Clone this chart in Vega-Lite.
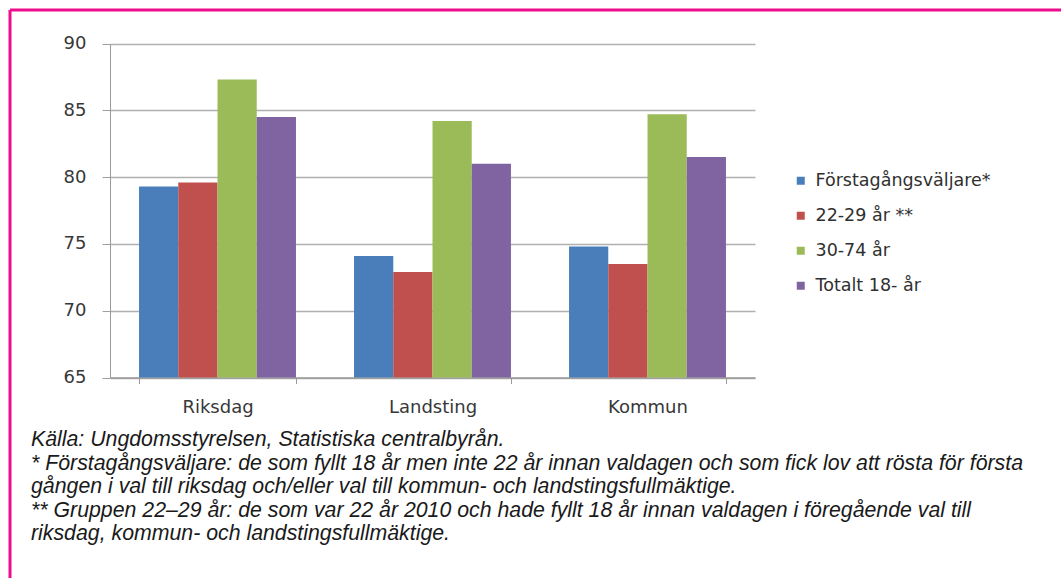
{
  "$schema": "https://vega.github.io/schema/vega-lite/v6.json",
  "width": 1051,
  "height": 568,
  "autosize": {"type": "none"},
  "padding": {"left": 10, "top": 10, "right": 0, "bottom": 0},
  "background": "white",
  "data": {
    "values": [
      {"val": "Riksdag", "grupp": "Förstagångsväljare*", "andel": 79.3},
      {"val": "Riksdag", "grupp": "22-29 år **", "andel": 79.6},
      {"val": "Riksdag", "grupp": "30-74 år", "andel": 87.3},
      {"val": "Riksdag", "grupp": "Totalt 18- år", "andel": 84.5},
      {"val": "Landsting", "grupp": "Förstagångsväljare*", "andel": 74.1},
      {"val": "Landsting", "grupp": "22-29 år **", "andel": 72.9},
      {"val": "Landsting", "grupp": "30-74 år", "andel": 84.2},
      {"val": "Landsting", "grupp": "Totalt 18- år", "andel": 81.0},
      {"val": "Kommun", "grupp": "Förstagångsväljare*", "andel": 74.8},
      {"val": "Kommun", "grupp": "22-29 år **", "andel": 73.5},
      {"val": "Kommun", "grupp": "30-74 år", "andel": 84.7},
      {"val": "Kommun", "grupp": "Totalt 18- år", "andel": 81.5}
    ]
  },
  "title": {
    "text": [
      "Källa: Ungdomsstyrelsen, Statistiska centralbyrån.",
      "* Förstagångsväljare: de som fyllt 18 år men inte 22 år innan valdagen och som fick lov att rösta för första",
      "gången i val till riksdag och/eller val till kommun- och landstingsfullmäktige.",
      "** Gruppen 22–29 år: de som var 22 år 2010 och hade fyllt 18 år innan valdagen i föregående val till",
      "riksdag, kommun- och landstingsfullmäktige."
    ],
    "orient": "bottom",
    "anchor": "start",
    "frame": "group",
    "offset": -149,
    "dx": 21,
    "font": "Liberation Sans",
    "fontStyle": "italic",
    "fontWeight": "normal",
    "fontSize": 21.3,
    "lineHeight": 23.6,
    "color": "#1a1a1a"
  },
  "mark": {"type": "bar"},
  "encoding": {
    "x": {
      "field": "val",
      "type": "nominal",
      "sort": ["Riksdag", "Landsting", "Kommun"],
      "scale": {"range": [100, 745], "paddingInner": 0.27, "paddingOuter": 0.135},
      "axis": {
        "title": null,
        "offset": -200.5,
        "labelAngle": 0,
        "labelFont": "DejaVu Sans",
        "labelFontSize": 18,
        "labelColor": "#383838",
        "labelPadding": 15,
        "tickBand": "extent",
        "tickSize": 6,
        "tickColor": "#9a9a9a",
        "domainColor": "#9a9a9a",
        "domainWidth": 1.5,
        "grid": false
      }
    },
    "xOffset": {
      "field": "grupp",
      "type": "nominal",
      "sort": ["Förstagångsväljare*", "22-29 år **", "30-74 år", "Totalt 18- år"],
      "scale": {"paddingInner": 0, "paddingOuter": 0}
    },
    "y": {
      "field": "andel",
      "type": "quantitative",
      "scale": {"domain": [65, 90], "range": [367.5, 33.5], "nice": false, "zero": false},
      "axis": {
        "title": null,
        "offset": -100,
        "values": [65, 70, 75, 80, 85, 90],
        "labelFont": "DejaVu Sans",
        "labelFontSize": 18,
        "labelColor": "#383838",
        "labelPadding": 16,
        "tickSize": 8,
        "tickColor": "#a0a0a0",
        "domainColor": "#9a9a9a",
        "grid": true,
        "gridColor": "#b0b0b0",
        "gridWidth": 1.5
      }
    },
    "y2": {"datum": 65},
    "color": {
      "field": "grupp",
      "type": "nominal",
      "sort": ["Förstagångsväljare*", "22-29 år **", "30-74 år", "Totalt 18- år"],
      "scale": {
        "domain": ["Förstagångsväljare*", "22-29 år **", "30-74 år", "Totalt 18- år"],
        "range": ["#4a7ebb", "#c0504d", "#9bbb59", "#8064a2"]
      },
      "legend": {
        "title": null,
        "orient": "none",
        "legendX": 782,
        "legendY": 162,
        "symbolType": "square",
        "symbolSize": 64,
        "symbolStrokeWidth": 0,
        "symbolOpacity": 1,
        "labelFont": "DejaVu Sans",
        "labelFontSize": 17.5,
        "labelColor": "#303030",
        "labelOffset": 6,
        "rowPadding": 16,
        "padding": 0,
        "labelLimit": 300
      }
    }
  },
  "config": {
    "view": {
      "stroke": "#ec0c8c",
      "strokeWidth": 3,
      "strokeDash": [1051, 1619, 568, 0]
    }
  }
}
